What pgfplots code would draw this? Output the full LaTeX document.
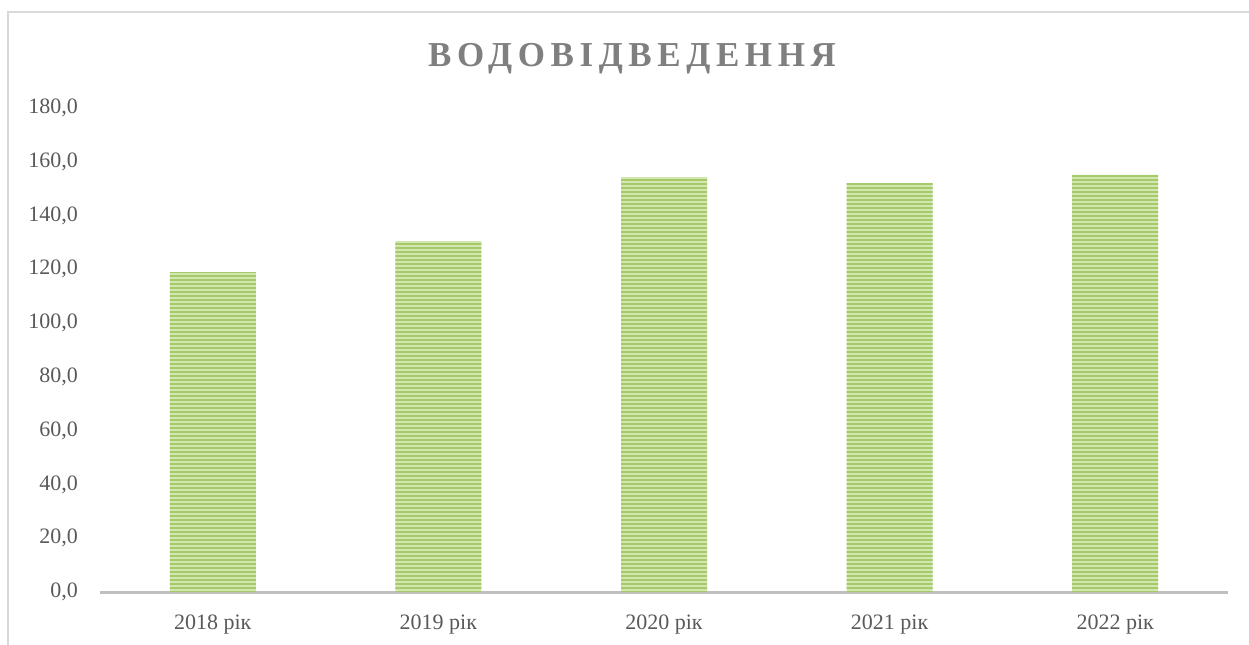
\documentclass[border=0pt]{standalone}
\usepackage{fontspec}
\setmainfont{Liberation Serif}
\newfontfamily\titlefont[LetterSpace=16]{Liberation Serif}
\usepackage{pgfplots}
\pgfplotsset{compat=1.18}
\usetikzlibrary{patterns.meta}
\definecolor{barlight}{HTML}{D3E6B0}
\definecolor{bardark}{HTML}{A6C96A}
\definecolor{ticktext}{HTML}{595959}
\definecolor{axisgray}{HTML}{BFBFBF}
\definecolor{framegray}{HTML}{D9D9D9}
\definecolor{titlegray}{HTML}{7F7F7F}
\begin{document}
\begin{tikzpicture}
\useasboundingbox (0,0) rectangle (624.5pt,322pt);
\begin{scope}
\clip (0,0) rectangle (624.5pt,322pt);
\draw[framegray, line width=1pt] (4pt,-5pt) rectangle (630pt,316pt);
\end{scope}
\node[anchor=base, text=titlegray, font=\titlefont\fontsize{17.5}{20}\selectfont\bfseries] at (316pt,288.5pt) {ВОДОВІДВЕДЕННЯ};
\begin{axis}[
  at={(50pt,26pt)}, anchor=south west,
  scale only axis,
  width=564pt, height=242pt,
  xmin=-0.5, xmax=4.5,
  ymin=0, ymax=180,
  ytick={0,20,...,180},
  xtick=data,
  xticklabels={2018 рік,2019 рік,2020 рік,2021 рік,2022 рік},
  axis x line*=bottom,
  axis y line*=left,
  x axis line style={axisgray, line width=1.5pt, -},
  y axis line style={draw=none},
  major tick length=0pt,
  tick label style={text=ticktext, font=\fontsize{11}{13}\selectfont},
  yticklabel style={xshift=-7.5pt},
  xticklabel style={yshift=-8pt},
  /pgf/number format/.cd, fixed, fixed zerofill, precision=1, use comma, assume math mode=true,
]
\addplot[ybar, bar width=43pt, draw=none, fill=barlight,
  postaction={pattern={Lines[angle=0,distance=2pt,line width=0.9pt]}, pattern color=bardark}]
  coordinates {(0,119.0) (1,130.5) (2,154.3) (3,152.1) (4,155.1)};
\end{axis}
\end{tikzpicture}
\end{document}
